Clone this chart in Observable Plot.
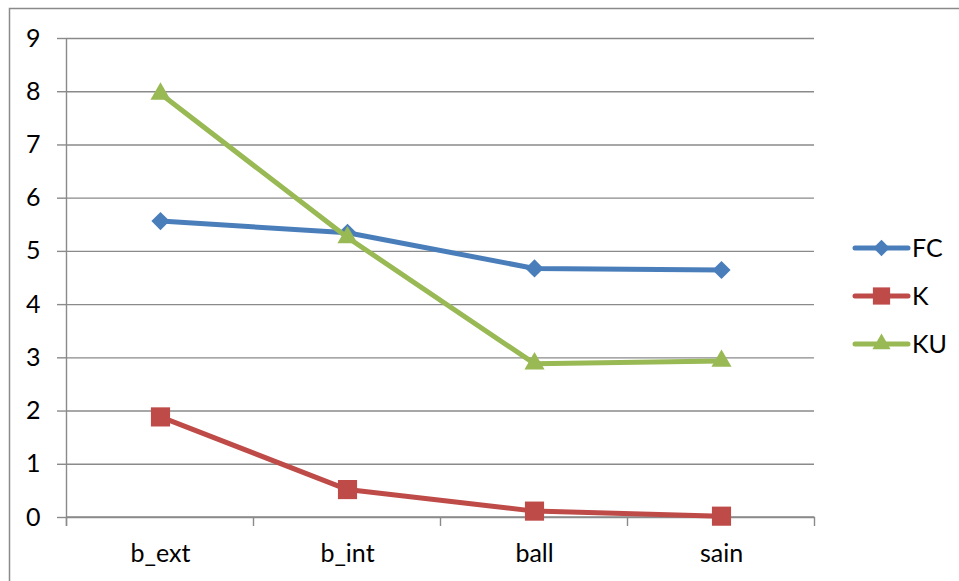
<!DOCTYPE html>
<html>
<head>
<meta charset="utf-8">
<script src="https://cdn.jsdelivr.net/npm/d3@7"></script>
<script src="https://cdn.jsdelivr.net/npm/@observablehq/plot@0.6"></script>
<style>
  html, body { margin: 0; padding: 0; background: #fff; }
  #chart svg { display: block; }
</style>
</head>
<body>
<div id="chart"></div>
<script>
// Categories along the x axis
const categories = ["b_ext", "b_int", "ball", "sain"];
// Series values, one per category
const fcValues = [5.57, 5.35, 4.68, 4.65];
const kValues = [1.89, 0.525, 0.12, 0.025];
const kuValues = [7.96, 5.26, 2.89, 2.94];
// Series names, colours and marker shapes
const seriesNames = ["FC", "K", "KU"];
const seriesColors = ["#4a7ebb", "#be4b48", "#98b954"];
const seriesSymbols = ["diamond2", "square", "triangle2"];
const seriesRadius = [8.2, 10.8, 9.6];
// Y axis tick values
const yTicks = [0, 1, 2, 3, 4, 5, 6, 7, 8, 9];

const valueLists = [fcValues, kValues, kuValues];
const rows = seriesNames.flatMap((s, i) =>
  categories.map((c, j) => ({series: s, cat: c, value: valueLists[i][j]}))
);

const gray = "#8a8a8a";
const font = "Lato, 'Open Sans', sans-serif";

// Axis lines and category boundary ticks, drawn from the plot's own scales
function axisFrame(index, scales, values, dims) {
  const x = scales.x, y = scales.y;
  const step = x(categories[1]) - x(categories[0]);
  const left = x(categories[0]) - step / 2;
  const right = x(categories[categories.length - 1]) + step / 2;
  const y0 = y(0), yTop = y(yTicks[yTicks.length - 1]);
  const g = d3.create("svg:g").attr("stroke", gray).attr("stroke-width", 1.4).attr("fill", "none");
  g.append("line").attr("x1", left).attr("x2", left).attr("y1", yTop).attr("y2", y0 + 9);
  g.append("line").attr("x1", left).attr("x2", right).attr("y1", y0).attr("y2", y0);
  const bounds = d3.range(categories.length + 1).map(i => left + i * step);
  for (const b of bounds) {
    g.append("line").attr("x1", b).attr("x2", b).attr("y1", y0).attr("y2", y0 + 9);
  }
  return g.node();
}

const seriesMarks = seriesNames.flatMap((s, i) => {
  const data = rows.filter(d => d.series === s);
  return [
    Plot.line(data, {
      x: "cat", y: "value",
      stroke: seriesColors[i], strokeWidth: 5,
      strokeLinejoin: "round", strokeLinecap: "round"
    }),
    Plot.dot(data, {
      x: "cat", y: "value",
      symbol: seriesSymbols[i], r: seriesRadius[i],
      fill: seriesColors[i], stroke: "none"
    })
  ];
});

const plot = Plot.plot({
  width: 959,
  height: 581,
  marginLeft: 66,
  marginRight: 145,
  marginTop: 38,
  marginBottom: 64,
  style: {fontFamily: font, fontSize: "25px", color: "#000", background: "#fff", overflow: "visible"},
  x: {type: "point", domain: categories, padding: 0.5, label: null},
  y: {domain: [0, 9], label: null},
  marks: [
    Plot.gridY(yTicks, {stroke: gray, strokeOpacity: 1, strokeWidth: 1.4}),
    Plot.axisY(yTicks, {tickSize: 9, tickPadding: 17, tickFormat: d3.format("d"), stroke: gray, strokeWidth: 1.4, fill: "#000", fontSize: 25, label: null}),
    Plot.axisX({tickSize: 0, tickPadding: 27, fill: "#000", fontSize: 25, label: null}),
    axisFrame,
    ...seriesMarks
  ]
});

document.getElementById("chart").appendChild(plot);

// Chart border (left and top edges) and the series legend
const svg = d3.select(plot);
svg.append("path")
  .attr("d", "M9.5,581V8.5H959")
  .attr("fill", "none").attr("stroke", gray).attr("stroke-width", 1.5);

const legend = svg.append("g").attr("font-family", font).attr("font-size", 25).attr("text-anchor", "start");
const legendY = [248, 296, 344];
seriesNames.forEach((s, i) => {
  const g = legend.append("g").attr("transform", `translate(0,${legendY[i]})`);
  g.append("line").attr("x1", 855).attr("x2", 908).attr("y1", 0).attr("y2", 0)
    .attr("stroke", seriesColors[i]).attr("stroke-width", 5).attr("stroke-linecap", "round");
  const symType = {diamond2: d3.symbolDiamond2, square: d3.symbolSquare, triangle2: d3.symbolTriangle2}[seriesSymbols[i]];
  const rr = seriesRadius[i] * 0.9;
  g.append("path").attr("transform", "translate(881.5,0)")
    .attr("d", d3.symbol(symType, Math.PI * rr * rr)())
    .attr("fill", seriesColors[i]);
  g.append("text").attr("x", 912).attr("y", 0).attr("dy", "0.35em")
    .attr("text-anchor", "start").attr("fill", "#000").text(s);
});
</script>
</body>
</html>
